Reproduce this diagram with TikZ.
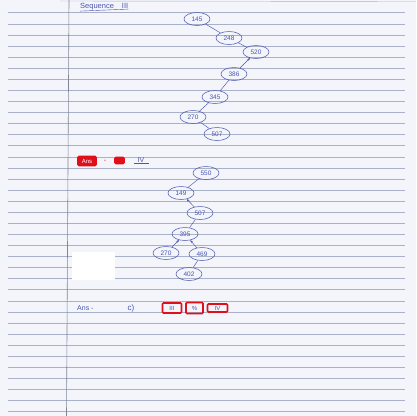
\documentclass[tikz,border=0pt]{standalone}
\usepackage{fontspec}
\setmainfont{Liberation Sans}
\usetikzlibrary{arrows.meta,shapes.geometric}
\definecolor{paper}{HTML}{F3F5FB}
\definecolor{rule}{HTML}{A9B1C8}
\definecolor{ink}{HTML}{4A55B0}
\definecolor{hl}{HTML}{E0101A}
\tikzset{
  num/.style={ellipse, draw=ink, line width=0.5pt, inner sep=0.6pt, minimum width=26pt, minimum height=13pt, text=ink, font=\fontsize{6.5}{7}\selectfont},
  edge/.style={draw=ink, line width=0.45pt},
  arr/.style={edge, -{Stealth[length=3pt,width=2.5pt]}},
  hand/.style={text=ink, font=\fontsize{7}{8}\selectfont, inner sep=0pt},
  redbox/.style={draw=hl, line width=1.6pt, rounded corners=1pt, inner sep=1.2pt, text=ink, font=\fontsize{6}{7}\selectfont}
}
\begin{document}
\begin{tikzpicture}[x=1pt,y=-1pt]
\useasboundingbox (0,0) rectangle (416,416);
\fill[paper] (0,0) rectangle (416,416);
% ruled lines
\foreach \i in {0,...,36} {
  \draw[rule, line width=0.45pt] (8,12.7+11.08*\i) -- (405,12.7+11.08*\i);
}
\draw[rule, line width=0.4pt] (60,1) -- (416,1.5);
% margin
\draw[rule!75!black, line width=0.6pt] (69,0) -- (66.5,416);
% white patch
\fill[white] (72,252) rectangle (115,280);

% Sequence III
\node[hand, anchor=west, font=\fontsize{7.5}{8}\selectfont] (seq) at (80,6.5) {Sequence\hspace{8pt}III};
\draw[ink, line width=0.4pt] (seq.south west) ++(0,1) -- ([yshift=1pt]seq.south east);

% tree 1
\node[num] (a145) at (197,19) {145};
\node[num] (a248) at (229,38) {248};
\node[num] (a520) at (256,52) {520};
\node[num] (a386) at (234,74) {386};
\node[num] (a345) at (215,97) {345};
\node[num] (a270) at (193,117) {270};
\node[num] (a507) at (217,134) {507};
\draw[edge] (a145) -- (a248);
\draw[edge] (a248) -- (a520);
\draw[arr] (a386) -- (a520);
\draw[edge] (a386) -- (a345);
\draw[edge] (a345) -- (a270);
\draw[edge] (a270) -- (a507);

% Ans - IV
\node[redbox, fill=hl, text=white, minimum width=18pt, minimum height=9pt] (ans1) at (87,161) {Ans};
\node[hand, text=hl] (dash1) at (105,161) {-};
\node[redbox, fill=hl, minimum width=9pt, minimum height=6pt, inner sep=0pt] (box1) at (119.5,160.5) {};
\node[hand] (iv1) at (141,160) {IV};
\draw[ink, line width=0.4pt] (134,163.5) -- (149,163.5);

% tree 2
\node[num] (b550) at (206,173) {550};
\node[num] (b149) at (181,193) {149};
\node[num] (b507) at (200,213) {507};
\node[num] (b395) at (185,234) {395};
\node[num] (b270) at (166,253) {270};
\node[num] (b469) at (202,254) {469};
\node[num] (b402) at (189,274) {402};
\draw[edge] (b550) -- (b149);
\draw[arr] (b507) -- (b149);
\draw[edge] (b507) -- (b395);
\draw[arr] (b270) -- (b395);
\draw[arr] (b469) -- (b395);
\draw[edge] (b469) -- (b402);

% Ans c)
\node[hand, anchor=west] (ans2) at (77,308) {Ans -};
\node[hand, font=\fontsize{8}{9}\selectfont] (c) at (131,308) {c)};
\node[redbox, minimum width=19pt, minimum height=10pt] (r1) at (172,308) {III};
\node[redbox, minimum width=17pt, minimum height=11pt] (r2) at (194.5,308) {\%};
\node[redbox, minimum width=20pt, minimum height=8pt] (r3) at (217.5,308) {IV};
\end{tikzpicture}
\end{document}
